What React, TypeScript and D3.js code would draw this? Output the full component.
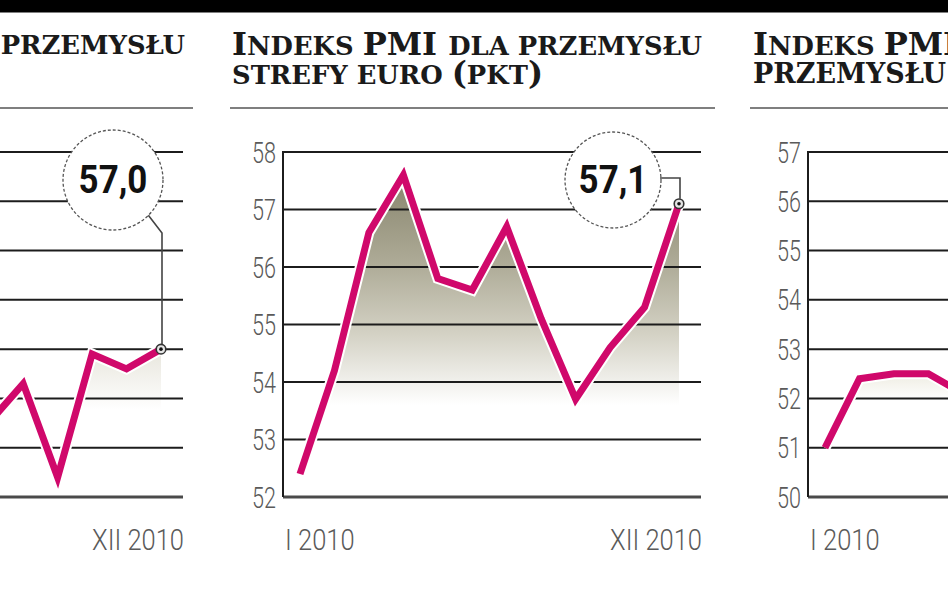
import * as d3 from "d3";

const MONTHS = ["I", "II", "III", "IV", "V", "VI", "VII", "VIII", "IX", "X", "XI", "XII"];
const FIRST_LABEL = "I 2010";
const LAST_LABEL = "XII 2010";

// left panel (cut off), only the end of the year is visible
const LEFT_MONTHS = ["VII", "VIII", "IX", "X", "XI", "XII"];
const LEFT_VALUES = [55.5, 56.3, 54.4, 56.9, 56.6, 57.0];
const LEFT_TICKS = [54, 55, 56, 57, 58, 59, 60, 61];

// euro zone PMI
const EURO_VALUES = [52.4, 54.2, 56.6, 57.6, 55.8, 55.6, 56.7, 55.1, 53.7, 54.6, 55.3, 57.1];
const EURO_TICKS = [52, 53, 54, 55, 56, 57, 58];

// right panel (cut off), only the start of the year is visible
const RIGHT_MONTHS = ["I", "II", "III", "IV", "V"];
const RIGHT_VALUES = [51.0, 52.4, 52.5, 52.5, 52.1];
const RIGHT_TICKS = [50, 51, 52, 53, 54, 55, 56, 57];

const PINK = "#d0086b";
const TITLE_FONT = "'DejaVu Serif', serif";
const NUM_FONT = "Roboto, sans-serif";
const BIG = 32;
const SMALL = 25.8;

type Seg = [string, number];

const Title = ({ x, y, segs, anchor = "start" }: { x: number; y: number; segs: Seg[]; anchor?: string }) => (
  <text x={x} y={y} textAnchor={anchor} fontFamily={TITLE_FONT} fontWeight="bold" fill="#1a1a1a">
    {segs.map(([t, s], i) => (
      <tspan key={i} fontSize={s}>
        {t}
      </tspan>
    ))}
  </text>
);

const Narrow = ({ x, y, sx, anchor, size, children, fill = "#5a5a5a", weight = 300 }: any) => (
  <text
    transform={`translate(${x},${y}) scale(${sx},1)`}
    textAnchor={anchor}
    fontFamily={NUM_FONT}
    fontWeight={weight}
    fontSize={size}
    fill={fill}
  >
    {children}
  </text>
);

type Callout = { label: string; dx: number; cy: number; r: number; kind: "side" | "diag" };

type PanelProps = {
  id: string;
  axisX: number;
  ticks: number[];
  months: string[];
  values: number[];
  showAxis: boolean;
  showFirst: boolean;
  showLast: boolean;
  callout?: Callout;
  grad: { y1: number; y2: number; stops: [number, string][] };
};

const Panel = ({ id, axisX, ticks, months, values, showAxis, showFirst, showLast, callout, grad }: PanelProps) => {
  const x = d3.scaleLinear().domain([0, 11]).range([axisX + 17, axisX + 396]);
  const y = d3
    .scaleLinear()
    .domain([ticks[0], ticks[ticks.length - 1]])
    .range([497, 152]);
  const right = axisX + 418;
  const pts: [number, number][] = months.map((m, i) => [x(MONTHS.indexOf(m)), y(values[i])]);
  const linePath = d3.line()(pts) || "";
  const areaPath =
    d3
      .area<[number, number]>()
      .x((d) => d[0])
      .y0(y(ticks[0]))
      .y1((d) => d[1])(pts) || "";
  const last = pts[pts.length - 1];

  let co = null;
  if (callout) {
    const cx = last[0] - callout.dx;
    const cy = callout.cy;
    const r = callout.r;
    let leader = "";
    if (callout.kind === "side") {
      leader = `M${cx + r - 1},${cy - 2}H${last[0] + 1}V${last[1] - 5}`;
    } else {
      const a = Math.PI / 4;
      leader = `M${cx + r * Math.cos(a)},${cy + r * Math.sin(a)}L${last[0] + 1},${cy + 53}V${last[1] - 5}`;
    }
    co = (
      <g>
        <circle cx={cx} cy={cy} r={r} fill="white" stroke="#555" strokeWidth={1.3} strokeDasharray="3 2" />
        <path d={leader} fill="none" stroke="#444" strokeWidth={1.6} />
        <circle cx={last[0]} cy={last[1]} r={4.8} fill="#e4e4e4" stroke="#333" strokeWidth={1.6} />
        <circle cx={last[0]} cy={last[1]} r={1.8} fill="#111" />
        <Narrow x={cx} y={cy + 13} sx={0.92} anchor="middle" size={38} fill="#111" weight={700}>
          {callout.label}
        </Narrow>
      </g>
    );
  }

  return (
    <g>
      <defs>
        <linearGradient id={id} gradientUnits="userSpaceOnUse" x1={0} x2={0} y1={grad.y1} y2={grad.y2}>
          {grad.stops.map(([o, c], i) => (
            <stop key={i} offset={o} stopColor={c} />
          ))}
        </linearGradient>
      </defs>
      <path d={areaPath} fill={`url(#${id})`} />
      {ticks.slice(1).map((t) => (
        <line key={t} x1={axisX} x2={right} y1={y(t)} y2={y(t)} stroke="#1c1c1c" strokeWidth={2} />
      ))}
      <line x1={axisX} x2={right} y1={y(ticks[0])} y2={y(ticks[0])} stroke="#4a4a4a" strokeWidth={3} />
      {showAxis && (
        <line x1={axisX} x2={axisX} y1={y(ticks[ticks.length - 1]) - 1} y2={y(ticks[0])} stroke="#1c1c1c" strokeWidth={2} />
      )}
      {showAxis &&
        ticks.map((t) => (
          <Narrow key={t} x={axisX - 7} y={y(t) + 10.5} sx={0.72} anchor="end" size={30}>
            {t}
          </Narrow>
        ))}
      <path d={linePath} fill="none" stroke="white" strokeWidth={11} strokeLinejoin="miter" strokeMiterlimit={4} />
      <path d={linePath} fill="none" stroke={PINK} strokeWidth={7} strokeLinejoin="miter" strokeMiterlimit={4} />
      {co}
      {showFirst && (
        <Narrow x={axisX + 2} y={550} sx={0.85} anchor="start" size={30}>
          {FIRST_LABEL}
        </Narrow>
      )}
      {showLast && (
        <Narrow x={right + 1} y={550} sx={0.85} anchor="end" size={30}>
          {LAST_LABEL}
        </Narrow>
      )}
    </g>
  );
};

export default function App() {
  return (
    <svg width={948} height={593} style={{ position: "absolute", left: 0, top: 0, background: "white" }}>
      <rect x={0} y={0} width={948} height={12.5} fill="#000" />

      <Title x={185} y={54} anchor="end" segs={[["PRZEMYSŁU", SMALL]]} />
      <line x1={0} x2={193} y1={108} y2={108} stroke="#555" strokeWidth={1.5} />

      <Title
        x={232}
        y={55}
        segs={[
          ["I", BIG],
          ["NDEKS ", SMALL],
          ["PMI ", BIG],
          ["DLA PRZEMYSŁU", SMALL],
        ]}
      />
      <Title
        x={232}
        y={84}
        segs={[
          ["STREFY EURO ", SMALL],
          ["(", BIG],
          ["PKT", SMALL],
          [")", BIG],
        ]}
      />
      <line x1={230} x2={715} y1={108} y2={108} stroke="#555" strokeWidth={1.5} />

      <Title
        x={753}
        y={55}
        segs={[
          ["I", BIG],
          ["NDEKS ", SMALL],
          ["PMI", BIG],
        ]}
      />
      <Title x={753} y={83} segs={[["PRZEMYSŁU", 27]]} />
      <line x1={750} x2={948} y1={108} y2={108} stroke="#555" strokeWidth={1.5} />

      <Panel
        id="gLeft"
        axisX={-235}
        ticks={LEFT_TICKS}
        months={LEFT_MONTHS}
        values={LEFT_VALUES}
        showAxis={false}
        showFirst={false}
        showLast={true}
        callout={{ label: "57,0", dx: 48, cy: 180, r: 50, kind: "diag" }}
        grad={{ y1: 345, y2: 410, stops: [[0, "#e6e4da"], [1, "#ffffff"]] }}
      />
      <Panel
        id="gEuro"
        axisX={283}
        ticks={EURO_TICKS}
        months={MONTHS}
        values={EURO_VALUES}
        showAxis={true}
        showFirst={true}
        showLast={true}
        callout={{ label: "57,1", dx: 66, cy: 180, r: 48, kind: "side" }}
        grad={{
          y1: 170,
          y2: 405,
          stops: [
            [0, "#85826a"],
            [0.4, "#aeab97"],
            [0.7, "#d4d2c5"],
            [1, "#ffffff"],
          ],
        }}
      />
      <Panel
        id="gRight"
        axisX={808}
        ticks={RIGHT_TICKS}
        months={RIGHT_MONTHS}
        values={RIGHT_VALUES}
        showAxis={true}
        showFirst={true}
        showLast={false}
        grad={{ y1: 370, y2: 400, stops: [[0, "#eceade"], [1, "#ffffff"]] }}
      />
    </svg>
  );
}
